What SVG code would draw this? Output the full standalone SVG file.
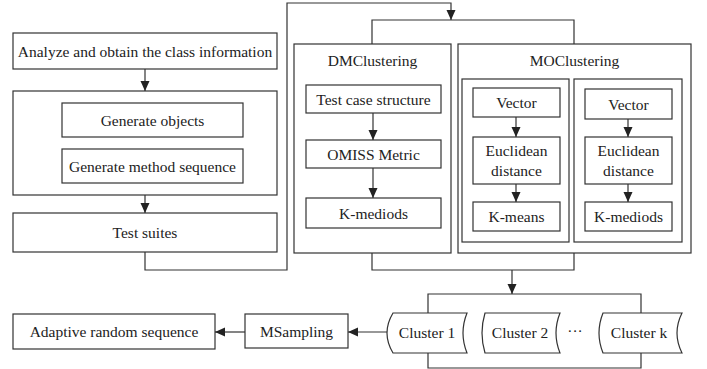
<svg xmlns="http://www.w3.org/2000/svg" width="707" height="369" viewBox="0 0 707 369" font-family="Liberation Serif, Times New Roman, serif">
<style>
.b{fill:#fff;stroke:#333;stroke-width:1.2}
.c{fill:none;stroke:#333;stroke-width:1.2}
.t{font-family:"Liberation Serif",serif;font-size:15.5px;fill:#222;text-anchor:middle}
</style>
<defs>
<marker id="ah" viewBox="0 0 10 10" refX="10" refY="5" markerWidth="10" markerHeight="10" markerUnits="userSpaceOnUse" orient="auto">
<path d="M0,0.5 L10,5 L0,9.5 Z" fill="#222"/>
</marker>
</defs>
<rect width="707" height="369" fill="#fff"/>
<g id="analyze"><rect class="b" x="13" y="33" width="264" height="36"/><text class="t" x="145" y="56.5">Analyze and obtain the class information</text></g>
<g id="generate"><rect class="b" x="13" y="91" width="264" height="104"/></g>
<g id="gen-objects"><rect class="b" x="62" y="103" width="181" height="34"/><text class="t" x="152.5" y="125.5">Generate objects</text></g>
<g id="gen-method"><rect class="b" x="62" y="149" width="181" height="34"/><text class="t" x="152.5" y="171.5">Generate method sequence</text></g>
<g id="test-suites"><rect class="b" x="13" y="213" width="264" height="39"/><text class="t" x="145" y="238">Test suites</text></g>
<g id="dm"><rect class="b" x="294" y="44" width="157" height="209"/><text class="t" x="372.5" y="66">DMClustering</text></g>
<g id="tcs"><rect class="b" x="306" y="85" width="135" height="28"/><text class="t" x="373.5" y="104.5">Test case structure</text></g>
<g id="omiss"><rect class="b" x="306" y="140" width="135" height="28"/><text class="t" x="373.5" y="159.5">OMISS Metric</text></g>
<g id="dm-kmed"><rect class="b" x="306" y="198" width="135" height="30"/><text class="t" x="373.5" y="218.5">K-mediods</text></g>
<g id="mo"><rect class="b" x="458" y="44" width="233" height="209"/><text class="t" x="574.5" y="66">MOClustering</text></g>
<g id="mo-left"><rect class="b" x="462" y="79" width="107" height="163"/></g>
<g id="mo-right"><rect class="b" x="574" y="79" width="108" height="163"/></g>
<g id="vec1"><rect class="b" x="473" y="88" width="87" height="29"/><text class="t" x="516.5" y="108">Vector</text></g>
<g id="euc1"><rect class="b" x="473" y="137" width="87" height="47"/><text class="t" x="516.5" y="156">Euclidean</text><text class="t" x="516.5" y="176">distance</text></g>
<g id="kmeans"><rect class="b" x="473" y="202" width="87" height="29"/><text class="t" x="516.5" y="222">K-means</text></g>
<g id="vec2"><rect class="b" x="585" y="89" width="87" height="30"/><text class="t" x="628.5" y="109.5">Vector</text></g>
<g id="euc2"><rect class="b" x="585" y="137" width="87" height="47"/><text class="t" x="628.5" y="156">Euclidean</text><text class="t" x="628.5" y="176">distance</text></g>
<g id="mo-kmed"><rect class="b" x="585" y="202" width="87" height="29"/><text class="t" x="628.5" y="222">K-mediods</text></g>
<g id="cluster1"><path class="b" d="M393,313 H467 Q459,333 467,353 H393 Q381,333 393,313 Z"/><text class="t" x="427" y="338">Cluster 1</text></g>
<g id="cluster2"><path class="b" d="M485,313 H560 Q552,333 560,353 H485 Q479,333 485,313 Z"/><text class="t" x="520" y="338">Cluster 2</text></g>
<g id="dots"><text class="t" x="575" y="336">···</text></g>
<g id="clusterk"><path class="b" d="M603,313 H682 Q672,333 682,353 H603 Q595,333 603,313 Z"/><text class="t" x="639" y="338">Cluster k</text></g>
<g id="msampling"><rect class="b" x="245" y="314" width="103" height="34"/><text class="t" x="296.5" y="337">MSampling</text></g>
<g id="ars"><rect class="b" x="13" y="314" width="202" height="35"/><text class="t" x="114" y="337">Adaptive random sequence</text></g>
<g id="connectors">
<path class="c" d="M145,69 V91" marker-end="url(#ah)"/>
<path class="c" d="M145,195 V213" marker-end="url(#ah)"/>
<path class="c" d="M145,252 V270 H287 V3 H451 V20" marker-end="url(#ah)"/>
<path class="c" d="M372,44 V20 H574 V44"/>
<path class="c" d="M373,113 V140" marker-end="url(#ah)"/>
<path class="c" d="M373,168 V198" marker-end="url(#ah)"/>
<path class="c" d="M516,117 V137" marker-end="url(#ah)"/>
<path class="c" d="M516,184 V202" marker-end="url(#ah)"/>
<path class="c" d="M628,119 V137" marker-end="url(#ah)"/>
<path class="c" d="M628,184 V202" marker-end="url(#ah)"/>
<path class="c" d="M372,253 V270 H574 V253"/>
<path class="c" d="M512,270 V294" marker-end="url(#ah)"/>
<path class="c" d="M428,313 V294 H641 V313"/>
<path class="c" d="M428,353 V368 H641 V353"/>
<path class="c" d="M387,332 H348" marker-end="url(#ah)"/>
<path class="c" d="M245,332 H215" marker-end="url(#ah)"/>
</g>
</svg>
